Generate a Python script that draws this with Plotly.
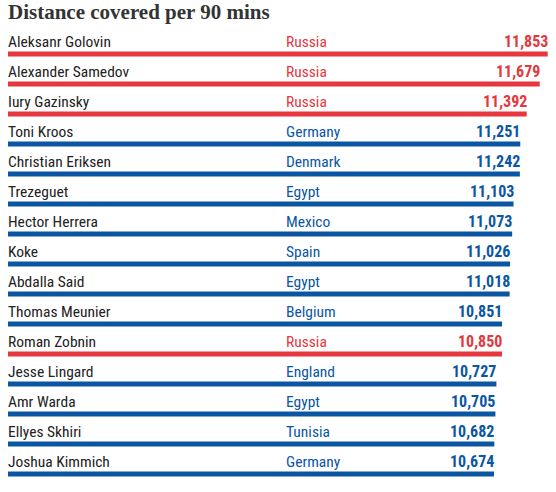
import plotly.graph_objects as go

jugadores = ["Aleksanr Golovin", "Alexander Samedov", "Iury Gazinsky", "Toni Kroos",
             "Christian Eriksen", "Trezeguet", "Hector Herrera", "Koke", "Abdalla Said",
             "Thomas Meunier", "Roman Zobnin", "Jesse Lingard", "Amr Warda",
             "Ellyes Skhiri", "Joshua Kimmich"]
paises = ["Russia", "Russia", "Russia", "Germany", "Denmark", "Egypt", "Mexico", "Spain",
          "Egypt", "Belgium", "Russia", "England", "Egypt", "Tunisia", "Germany"]
distancias = [11853, 11679, 11392, 11251, 11242, 11103, 11073, 11026, 11018,
              10851, 10850, 10727, 10705, 10682, 10674]

ROJO = "#e5373d"
AZUL = "#0a56a3"
colores = [ROJO if p == "Russia" else AZUL for p in paises]
filas = list(range(len(jugadores)))

fuente = "Roboto Condensed, Roboto, sans-serif"

fig = go.Figure(go.Bar(
    x=distancias,
    y=filas,
    orientation="h",
    width=0.17,
    marker=dict(color=colores, line=dict(width=0)),
    hoverinfo="skip",
))

for i in filas:
    fig.add_annotation(x=0, y=i, xref="paper", yref="y", text=jugadores[i],
                       xanchor="left", yanchor="middle", yshift=12.5, xshift=-2, showarrow=False,
                       font=dict(family=fuente, size=15.5, color="#222222"))
    fig.add_annotation(x=278 / 540, y=i, xref="paper", yref="y", text=paises[i],
                       xanchor="left", yanchor="middle", yshift=12.5, xshift=-2, showarrow=False,
                       font=dict(family=fuente, size=15.5, color=colores[i]))
    fig.add_annotation(x=distancias[i], y=i, xref="x", yref="y", text=f"<b>{distancias[i]:,}</b>",
                       xanchor="right", yanchor="middle", yshift=12.5, xshift=2, showarrow=False,
                       font=dict(family=fuente, size=16, color=colores[i]))

fig.update_layout(
    width=556,
    height=492,
    margin=dict(l=8, r=8, t=39, b=3),
    paper_bgcolor="white",
    plot_bgcolor="white",
    showlegend=False,
    title=dict(text="<b>Distance covered per 90 mins</b>", x=8 / 556, xanchor="left",
               y=1 - 12 / 492, yanchor="middle", yref="container",
               font=dict(family="Liberation Serif, serif", size=21, color="#333333")),
    xaxis=dict(range=[0, 11860], visible=False, fixedrange=True),
    yaxis=dict(range=[14.5, -0.5], visible=False, fixedrange=True),
)

# quitar el margen del body para que la figura ocupe toda la ventana
fig.write_html("out.html", config={"displayModeBar": False},
               post_script="document.body.style.margin='0';")
